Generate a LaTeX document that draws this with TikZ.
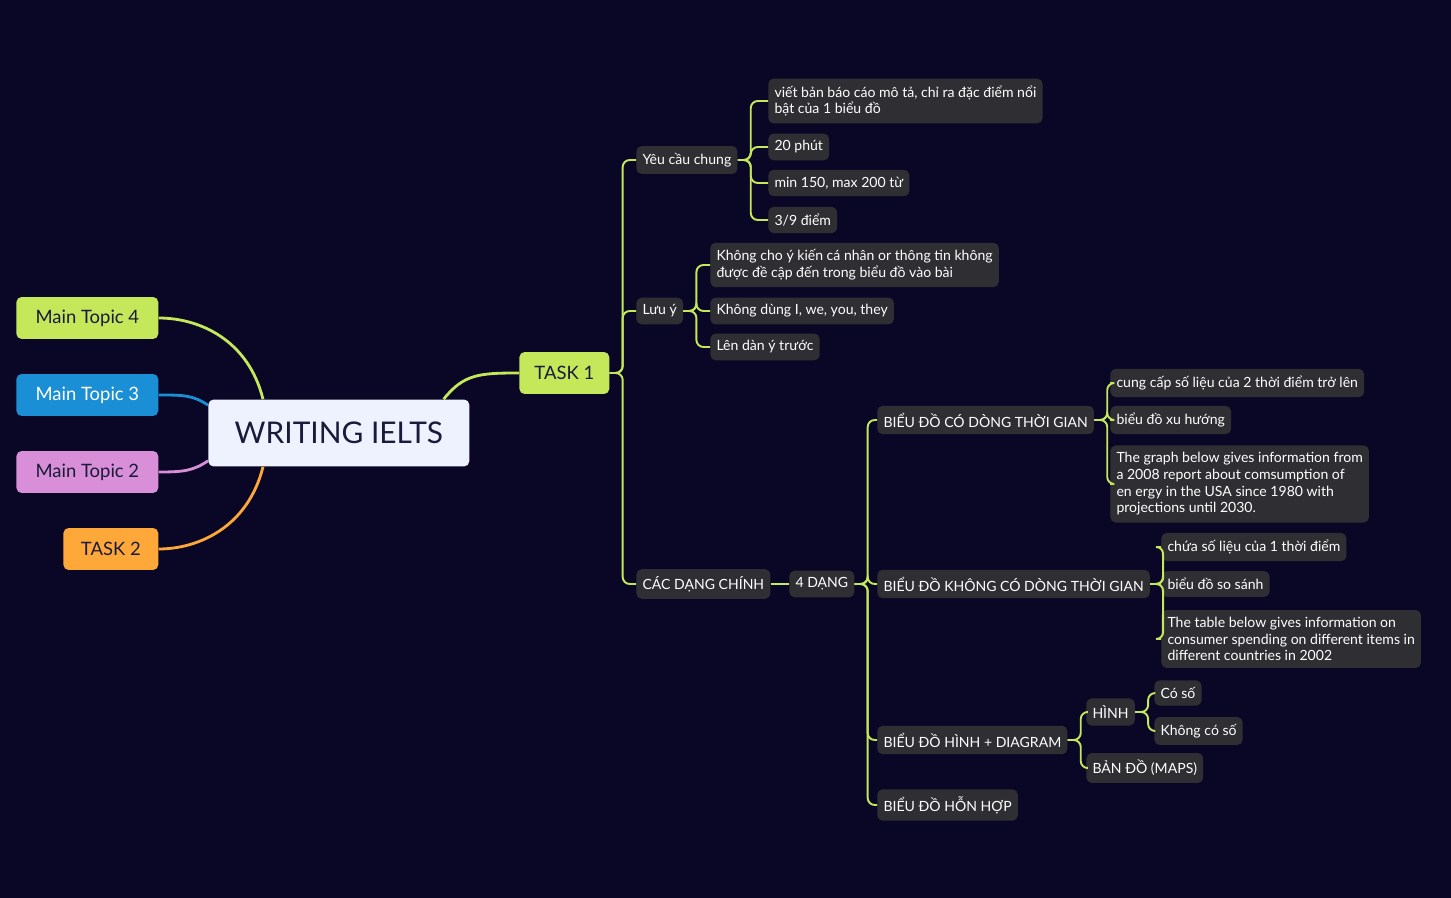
\documentclass[tikz,border=0pt]{standalone}
\usepackage{fontspec}
\setmainfont{Lato}
\usetikzlibrary{calc}
\usetikzlibrary{positioning}
\definecolor{bgnavy}{HTML}{0A0626}
\definecolor{leafgrey}{HTML}{2E2E33}
\definecolor{lime}{HTML}{C5E85A}
\definecolor{topicblue}{HTML}{1A8FD6}
\definecolor{topicpink}{HTML}{D88FD8}
\definecolor{topicorange}{HTML}{FFA83A}
\definecolor{rootwhite}{HTML}{EEF2FF}
\definecolor{inkdark}{HTML}{1A1A3A}
\tikzset{
  leaf/.style={anchor=west, fill=leafgrey, text=white, rounded corners=3pt, inner xsep=3.5pt, inner ysep=4pt, font=\fontsize{8}{9.5}\selectfont, align=left},
  topic/.style={anchor=west, rounded corners=3pt, minimum height=0.84cm, inner xsep=8pt, font=\fontsize{10.5}{12}\selectfont},
  link/.style={draw=lime, line width=1.1pt, rounded corners=4pt},
}
\newcommand{\branch}[2]{\draw[link] (#1.east) -- ++(13,0) |- (#2.west);}
\begin{document}
\begin{tikzpicture}[x=0.02cm, y=-0.02cm]
	\fill[bgnavy] (0,0) rectangle (1451,898);
	\useasboundingbox (0,0) rectangle (1451,898);
	% root and side topics
	\node[anchor=west, fill=rootwhite, text=inkdark, rounded corners=3pt, minimum width=5.22cm, minimum height=1.34cm, font=\fontsize{17}{20}\selectfont] (root) at (208,433) {WRITING IELTS};
	\node[topic, fill=lime, text=inkdark, minimum width=2.84cm] (mt4) at (16,318) {Main Topic 4};
	\node[topic, fill=topicblue, text=white, minimum width=2.84cm] (mt3) at (16,395) {Main Topic 3};
	\node[topic, fill=topicpink, text=inkdark, minimum width=2.84cm] (mt2) at (16,472) {Main Topic 2};
	\node[topic, fill=topicorange, text=inkdark, minimum width=1.9cm] (task2) at (63,549) {TASK 2};
	\node[topic, fill=lime, text=inkdark, minimum width=1.8cm] (task1) at (519,373) {TASK 1};
	\draw[line width=1.6pt, lime] (root.north west) ++(55,0) .. controls +(-15,-60) and +(40,0) .. (mt4.east);
	\draw[line width=1.6pt, topicblue] (root.north west) ++(0,6) .. controls +(-15,-10) and +(25,0) .. (mt3.east);
	\draw[line width=1.6pt, topicpink] (root.south west) ++(0,-6) .. controls +(-15,10) and +(25,0) .. (mt2.east);
	\draw[line width=1.6pt, topicorange] (root.south west) ++(55,0) .. controls +(-15,60) and +(40,0) .. (task2.east);
	\draw[line width=1.6pt, lime] (root.north east) ++(-26,0) .. controls +(20,-25) and +(-40,0) .. (task1.west);
	% TASK 1 branches
	\node[leaf] (req) at (636,160) {Yêu cầu chung};
	\node[leaf] (note) at (636,311) {Lưu ý};
	\node[leaf] (types) at (636,584) {CÁC DẠNG CHÍNH};
	\node[leaf] (req1) at (768,101) {viết bản báo cáo mô tả, chỉ ra đặc điểm nổi\\bật của 1 biểu đồ};
	\node[leaf] (req2) at (768,147) {20 phút};
	\node[leaf] (req3) at (768,183) {min 150, max 200 từ};
	\node[leaf] (req4) at (768,220) {3/9 điểm};
	\node[leaf] (note1) at (710,265) {Không cho ý kiến cá nhân or thông tin không\\được đề cập đến trong biểu đồ vào bài};
	\node[leaf] (note2) at (710,311) {Không dùng I, we, you, they};
	\node[leaf] (note3) at (710,347) {Lên dàn ý trước};
	\node[leaf] (four) at (789,584) {4 DẠNG};
	\node[leaf] (time) at (877,420) {BIỂU ĐỒ CÓ DÒNG THỜI GIAN};
	\node[leaf] (notime) at (877,584) {BIỂU ĐỒ KHÔNG CÓ DÒNG THỜI GIAN};
	\node[leaf] (diag) at (877,740) {BIỂU ĐỒ HÌNH + DIAGRAM};
	\node[leaf] (mixed) at (877,805) {BIỂU ĐỒ HỖN HỢP};
	\node[leaf] (time1) at (1110,383) {cung cấp số liệu của 2 thời điểm trở lên};
	\node[leaf] (time2) at (1110,420) {biểu đồ xu hướng};
	\node[leaf] (time3) at (1110,484) {The graph below gives information from\\a 2008 report about comsumption of\\en ergy in the USA since 1980 with\\projections until 2030.};
	\node[leaf] (notime1) at (1161,547) {chứa số liệu của 1 thời điểm};
	\node[leaf] (notime2) at (1161,584) {biểu đồ so sánh};
	\node[leaf] (notime3) at (1161,639) {The table below gives information on\\consumer spending on different items in\\different countries in 2002};
	\node[leaf] (shape) at (1086,712) {HÌNH};
	\node[leaf] (maps) at (1086,768) {BẢN ĐỒ (MAPS)};
	\node[leaf] (num) at (1154,693) {Có số};
	\node[leaf] (nonum) at (1154,731) {Không có số};
	% connectors
	\foreach \c in {req,note,types} {\branch{task1}{\c}}
	\foreach \c in {req1,req2,req3,req4} {\branch{req}{\c}}
	\foreach \c in {note1,note2,note3} {\branch{note}{\c}}
	\draw[link] (types) -- (four);
	\foreach \c in {time,notime,diag,mixed} {\branch{four}{\c}}
	\foreach \c in {time1,time2,time3} {\branch{time}{\c}}
	\foreach \c in {notime1,notime2,notime3} {\branch{notime}{\c}}
	\foreach \c in {shape,maps} {\branch{diag}{\c}}
	\foreach \c in {num,nonum} {\branch{shape}{\c}}
\end{tikzpicture}
\end{document}
